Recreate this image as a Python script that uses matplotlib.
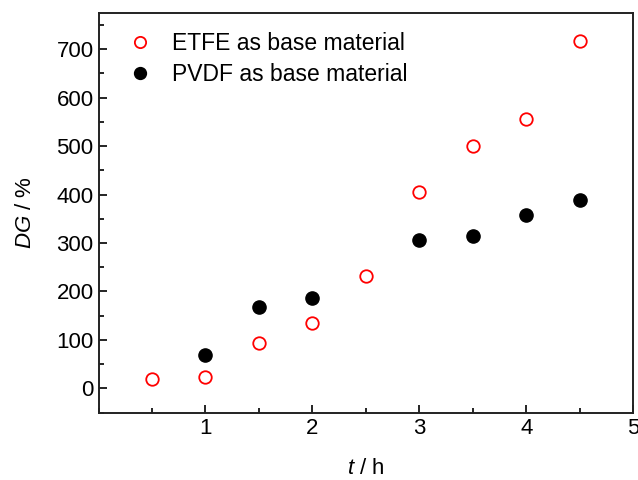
import matplotlib
matplotlib.use("Agg")
import matplotlib.pyplot as plt
from matplotlib.ticker import MultipleLocator

plt.rcParams['font.family'] = ['Liberation Sans', 'DejaVu Sans']
plt.rcParams['mathtext.fontset'] = 'custom'
plt.rcParams['mathtext.rm'] = 'Liberation Sans'
plt.rcParams['mathtext.it'] = 'Liberation Sans:italic'

etfe_t = [0.5, 1.0, 1.5, 2.0, 2.5, 3.0, 3.5, 4.0, 4.5]
etfe_dg = [20, 24, 93, 134, 232, 405, 500, 556, 716]
pvdf_t = [1.0, 1.5, 2.0, 3.0, 3.5, 4.0, 4.5]
pvdf_dg = [68, 168, 186, 306, 314, 357, 388]

fig = plt.figure(figsize=(6.38, 4.8), dpi=100)
ax = fig.add_axes([98.5/638, 1 - 412.7/480, (633.3-98.5)/638, (412.7-12.7)/480])

ax.plot(etfe_t, etfe_dg, linestyle='none', marker='o', markersize=9,
        markerfacecolor='white', markeredgecolor='red', markeredgewidth=1.3,
        label='ETFE as base material')
ax.plot(pvdf_t, pvdf_dg, linestyle='none', marker='o', markersize=9.5,
        markerfacecolor='black', markeredgecolor='black',
        label='PVDF as base material')

ax.set_xlim(0, 5)
ax.set_ylim(-50, 775)
ax.xaxis.set_major_locator(MultipleLocator(1))
ax.xaxis.set_minor_locator(MultipleLocator(0.5))
ax.yaxis.set_major_locator(MultipleLocator(100))
ax.yaxis.set_minor_locator(MultipleLocator(50))
ax.set_xticks([1, 2, 3, 4, 5])
ax.tick_params(axis='both', which='both', direction='in', top=False, right=False,
               labelsize=16, width=1.2)
ax.tick_params(which='major', length=6)
ax.tick_params(which='minor', length=3.5)
for s in ax.spines.values():
    s.set_linewidth(1.4)
    s.set_color('#222222')

ax.set_xlabel(r'$\it{t}$ / h', fontsize=16, labelpad=14)
ax.set_ylabel(r'$\it{DG}$ / %', fontsize=16, labelpad=15)

ax.legend(loc='upper left', frameon=False, fontsize=16.5, handletextpad=0.4,
          borderaxespad=0.4, labelspacing=0.35, markerscale=0.9,
          bbox_to_anchor=(0.0, 0.998))

fig.savefig('out.png', dpi=100)
